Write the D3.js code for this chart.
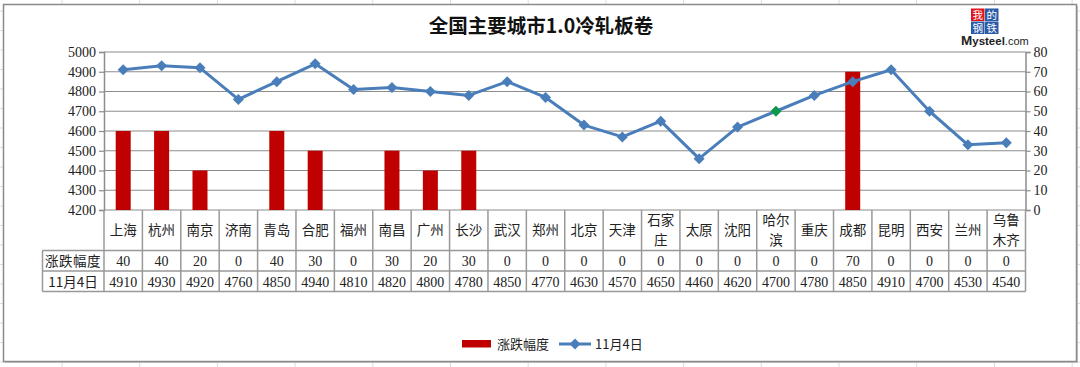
<!DOCTYPE html>
<html><head><meta charset="utf-8">
<script src="https://cdn.jsdelivr.net/npm/d3@7"></script>
<style>
html,body{margin:0;padding:0;background:#fff;}
svg{display:block;}
</style></head>
<body>
<svg id="c" width="1080" height="367"></svg>
<script>
const title = "全国主要城市1.0冷轧板卷";
const cities = ["上海","杭州","南京","济南","青岛","合肥","福州","南昌","广州","长沙","武汉","郑州","北京","天津","石家庄","太原","沈阳","哈尔滨","重庆","成都","昆明","西安","兰州","乌鲁木齐"];
const cityLines = [["上海"],["杭州"],["南京"],["济南"],["青岛"],["合肥"],["福州"],["南昌"],["广州"],["长沙"],["武汉"],["郑州"],["北京"],["天津"],["石家","庄"],["太原"],["沈阳"],["哈尔","滨"],["重庆"],["成都"],["昆明"],["西安"],["兰州"],["乌鲁","木齐"]];
const changeName = "涨跌幅度";
const changes = [40,40,20,0,40,30,0,30,20,30,0,0,0,0,0,0,0,0,0,70,0,0,0,0];
const priceName = "11月4日";
const prices = [4910,4930,4920,4760,4850,4940,4810,4820,4800,4780,4850,4770,4630,4570,4650,4460,4620,4700,4780,4850,4910,4700,4530,4540];
const leftTicks = [4200,4300,4400,4500,4600,4700,4800,4900,5000];
const rightTicks = [0,10,20,30,40,50,60,70,80];
const greenIdx = 17;

const svg = d3.select("#c");
const L = 104, R = 1025.5, T = 52, B = 210;
const x = d3.scaleBand().domain(cities).range([L, R]).paddingInner(0).paddingOuter(0);
const yL = d3.scaleLinear().domain([4200, 5000]).range([B, T]);
const yR = d3.scaleLinear().domain([0, 80]).range([B, T]);
const numFont = "'Liberation Serif', 'DejaVu Serif', serif";
const cjkFont = "'Noto Sans CJK SC', sans-serif";

// spreadsheet background lines
const bg = svg.append("g").attr("stroke", "#dcdcdc").attr("stroke-width", 1);
for (let k = 0; k < 14; k++) {
  const xx = 62 + 77.7 * k;
  bg.append("line").attr("x1", xx).attr("x2", xx).attr("y1", 0).attr("y2", 367);
}
for (let k = 0; k < 20; k++) {
  const yy = 11 + 19.5 * k;
  bg.append("line").attr("x1", 0).attr("x2", 1080).attr("y1", yy).attr("y2", yy);
}
// chart area
svg.append("rect").attr("x", 5).attr("y", 6).attr("width", 1073).attr("height", 357).attr("fill", "#c8c8c8");
svg.append("rect").attr("x", 3.5).attr("y", 4.5).attr("width", 1073).attr("height", 357)
  .attr("fill", "#fff").attr("stroke", "#8a8a8a").attr("stroke-width", 1.5);

// title
svg.append("text").attr("x", 541).attr("y", 33).attr("text-anchor", "middle")
  .attr("font-family", cjkFont).attr("font-weight", "bold").attr("font-size", 19.5)
  .attr("fill", "#111").text(title);

// logo
const logo = svg.append("g");
const logoChars = [["我", 971, 8.5, "#e0161c"], ["的", 985, 8.5, "#2b5ba8"], ["钢", 971, 21.5, "#2b5ba8"], ["铁", 985, 21.5, "#2b5ba8"]];
logoChars.forEach(([c, lx, ly, col]) => {
  logo.append("rect").attr("x", lx).attr("y", ly).attr("width", 13.5).attr("height", 12.5).attr("fill", col);
  logo.append("text").attr("x", lx + 6.75).attr("y", ly + 10.3).attr("text-anchor", "middle")
    .attr("font-family", cjkFont).attr("font-size", 10.5).attr("fill", "#fff").text(c);
});
const lt = logo.append("text").attr("x", 961).attr("y", 45).attr("font-family", "'Liberation Sans', Arial, sans-serif").attr("fill", "#222");
lt.append("tspan").attr("font-size", 13.5).attr("font-weight", "bold").text("M");
lt.append("tspan").attr("font-size", 11.5).attr("font-weight", "bold").text("ysteel");
lt.append("tspan").attr("font-size", 11).text(".com");

// gridlines
const grid = svg.append("g");
leftTicks.forEach(t => {
  grid.append("line").attr("x1", L).attr("x2", R).attr("y1", yL(t)).attr("y2", yL(t))
    .attr("stroke", "#8c8c8c").attr("stroke-width", 1.2);
});

// axes
const axL = svg.append("g").attr("transform", `translate(${L},0)`)
  .call(d3.axisLeft(yL).tickValues(leftTicks).tickSize(5).tickPadding(3).tickFormat(d3.format("d")));
const axR = svg.append("g").attr("transform", `translate(${R},0)`)
  .call(d3.axisRight(yR).tickValues(rightTicks).tickSize(5).tickPadding(3).tickFormat(d3.format("d")));
[axL, axR].forEach(a => {
  a.select(".domain").attr("stroke", "#8c8c8c").attr("stroke-width", 1.5);
  a.selectAll(".tick line").attr("stroke", "#8c8c8c").attr("stroke-width", 1.2);
  a.selectAll("text").attr("font-family", numFont).attr("font-size", 14).attr("fill", "#222");
});

// bars
const bw = 15;
svg.append("g").selectAll("rect").data(cities).join("rect")
  .attr("x", d => x(d) + x.bandwidth() / 2 - bw / 2)
  .attr("width", bw)
  .attr("y", (d, i) => yR(changes[i]))
  .attr("height", (d, i) => yR(0) - yR(changes[i]))
  .attr("fill", "#c00000");

// line
const pts = cities.map((c, i) => [x(c) + x.bandwidth() / 2, yL(prices[i])]);
svg.append("path").attr("d", d3.line()(pts)).attr("fill", "none")
  .attr("stroke", "#4a7ebb").attr("stroke-width", 3).attr("stroke-linejoin", "round");
const dm = 5.5;
const diamond = `M0,${-dm}L${dm},0L0,${dm}L${-dm},0Z`;
svg.append("g").selectAll("path").data(pts).join("path")
  .attr("d", diamond).attr("transform", d => `translate(${d[0]},${d[1]})`)
  .attr("fill", (d, i) => i === greenIdx ? "#0a9a4a" : "#4a7ebb");

// data table
const tb = svg.append("g");
const gridCol = "#999";
const r1 = 250.5, r2 = 271, r3 = 291.5, tl = 42.5;
tb.append("line").attr("x1", tl).attr("x2", R).attr("y1", r1).attr("y2", r1).attr("stroke", gridCol).attr("stroke-width", 1.5);
tb.append("line").attr("x1", tl).attr("x2", R).attr("y1", r2).attr("y2", r2).attr("stroke", gridCol).attr("stroke-width", 1.5);
tb.append("line").attr("x1", tl).attr("x2", R).attr("y1", r3).attr("y2", r3).attr("stroke", gridCol).attr("stroke-width", 1.5);
tb.append("line").attr("x1", tl).attr("x2", tl).attr("y1", r1).attr("y2", r3).attr("stroke", gridCol).attr("stroke-width", 1.5);
const bounds = cities.map(c => x(c)).concat([R]);
bounds.forEach(bx => {
  tb.append("line").attr("x1", bx).attr("x2", bx).attr("y1", B).attr("y2", r3).attr("stroke", gridCol).attr("stroke-width", 1.5);
});
cities.forEach((c, i) => {
  const cx = x(c) + x.bandwidth() / 2;
  const lines = cityLines[i];
  const t = tb.append("text").attr("text-anchor", "middle").attr("font-family", cjkFont)
    .attr("font-size", 13.5).attr("fill", "#222");
  if (lines.length === 1) {
    t.append("tspan").attr("x", cx).attr("y", 235).text(lines[0]);
  } else {
    t.append("tspan").attr("x", cx).attr("y", 225).text(lines[0]);
    t.append("tspan").attr("x", cx).attr("y", 245).text(lines[1]);
  }
  tb.append("text").attr("x", cx).attr("y", 266).attr("text-anchor", "middle")
    .attr("font-family", numFont).attr("font-size", 14).attr("fill", "#222").text(changes[i]);
  tb.append("text").attr("x", cx).attr("y", 286.5).attr("text-anchor", "middle")
    .attr("font-family", numFont).attr("font-size", 14).attr("fill", "#222").text(prices[i]);
});
tb.append("text").attr("x", 73).attr("y", 266).attr("text-anchor", "middle")
  .attr("font-family", cjkFont).attr("font-size", 13.5).attr("letter-spacing", 0.5).attr("fill", "#222").text(changeName);
tb.append("text").attr("x", 73).attr("y", 286.5).attr("text-anchor", "middle")
  .attr("font-family", cjkFont).attr("font-size", 13.5).attr("fill", "#222").text(priceName);

// legend
const lg = svg.append("g");
lg.append("rect").attr("x", 462).attr("y", 340).attr("width", 29).attr("height", 7.5).attr("fill", "#c00000");
lg.append("text").attr("x", 497).attr("y", 349).attr("font-family", cjkFont).attr("font-size", 13).attr("fill", "#222").text(changeName);
lg.append("line").attr("x1", 559).attr("x2", 591).attr("y1", 344).attr("y2", 344).attr("stroke", "#4a7ebb").attr("stroke-width", 3);
lg.append("path").attr("d", diamond).attr("transform", "translate(575,344)").attr("fill", "#4a7ebb");
lg.append("text").attr("x", 595).attr("y", 349).attr("font-family", cjkFont).attr("font-size", 13).attr("fill", "#222").text(priceName);
</script>
</body></html>
